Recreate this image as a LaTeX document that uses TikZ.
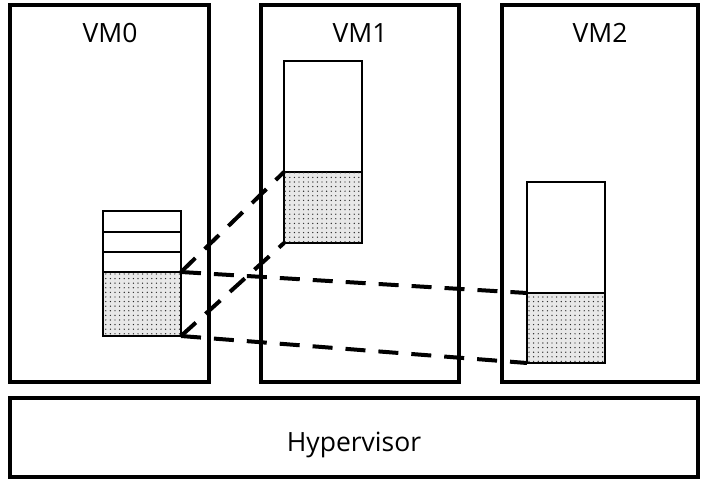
\documentclass[tikz,border=0pt]{standalone}
\usepackage{fontspec}
\setmainfont{Open Sans}
\usetikzlibrary{patterns.meta}
\tikzdeclarepattern{
  name=mydots,
  type=uncolored,
  bottom left={(-1pt,-1pt)},
  top right={(3.5pt,3.5pt)},
  tile size={(4.6pt,4.6pt)},
  code={\fill (0,0) circle (0.7pt);}
}
\tikzset{
  vmbox/.style={draw, line width=3.5pt, inner sep=0pt, outer sep=0pt, anchor=north west, fill=white},
  cell/.style={draw, line width=2.2pt, inner sep=0pt, outer sep=0pt, anchor=north west, fill=white},
  shaded/.style={cell, fill=gray!18, postaction={pattern={mydots}, pattern color=black!85}},
  label/.style={font=\fontsize{26.5}{30}\selectfont, anchor=base, inner sep=0pt},
  link/.style={line width=4pt, dash pattern=on 20pt off 13pt}
}
\begin{document}
\begin{tikzpicture}[x=1pt,y=-1pt]
\useasboundingbox (0,0) rectangle (708,481);
% VM boxes
\node[vmbox, minimum width=199pt, minimum height=377pt] (vm0) at (10,5) {};
\node[vmbox, minimum width=198pt, minimum height=377pt] (vm1) at (261,5) {};
\node[vmbox, minimum width=196pt, minimum height=377pt] (vm2) at (502,5) {};
\node[vmbox, minimum width=688pt, minimum height=79pt] (hyp) at (10,398) {};
\node[label] (vm0t) at (110,43) {VM0};
\node[label] (vm1t) at (360,43) {VM1};
\node[label] (vm2t) at (600,43) {VM2};
\node[label] (hypt) at (354,451) {Hypervisor};
% VM0 stack
\node[cell, minimum width=78pt, minimum height=21pt] (a1) at (103,211) {};
\node[cell, minimum width=78pt, minimum height=20pt] (a2) at (103,232) {};
\node[cell, minimum width=78pt, minimum height=20pt] (a3) at (103,252) {};
\node[shaded, minimum width=78pt, minimum height=64pt] (a4) at (103,272) {};
% VM1 block
\node[cell, minimum width=78pt, minimum height=111pt] (b1) at (284,61) {};
\node[shaded, minimum width=78pt, minimum height=71pt] (b2) at (284,172) {};
% VM2 block
\node[cell, minimum width=78pt, minimum height=111pt] (c1) at (527,182) {};
\node[shaded, minimum width=78pt, minimum height=70pt] (c2) at (527,293) {};
% links
\draw[link] (a4.north east) -- (b2.north west);
\draw[link] (a4.south east) -- (b2.south west);
\draw[link] (a4.north east) -- (c2.north west);
\draw[link] (a4.south east) -- (c2.south west);
\end{tikzpicture}
\end{document}
